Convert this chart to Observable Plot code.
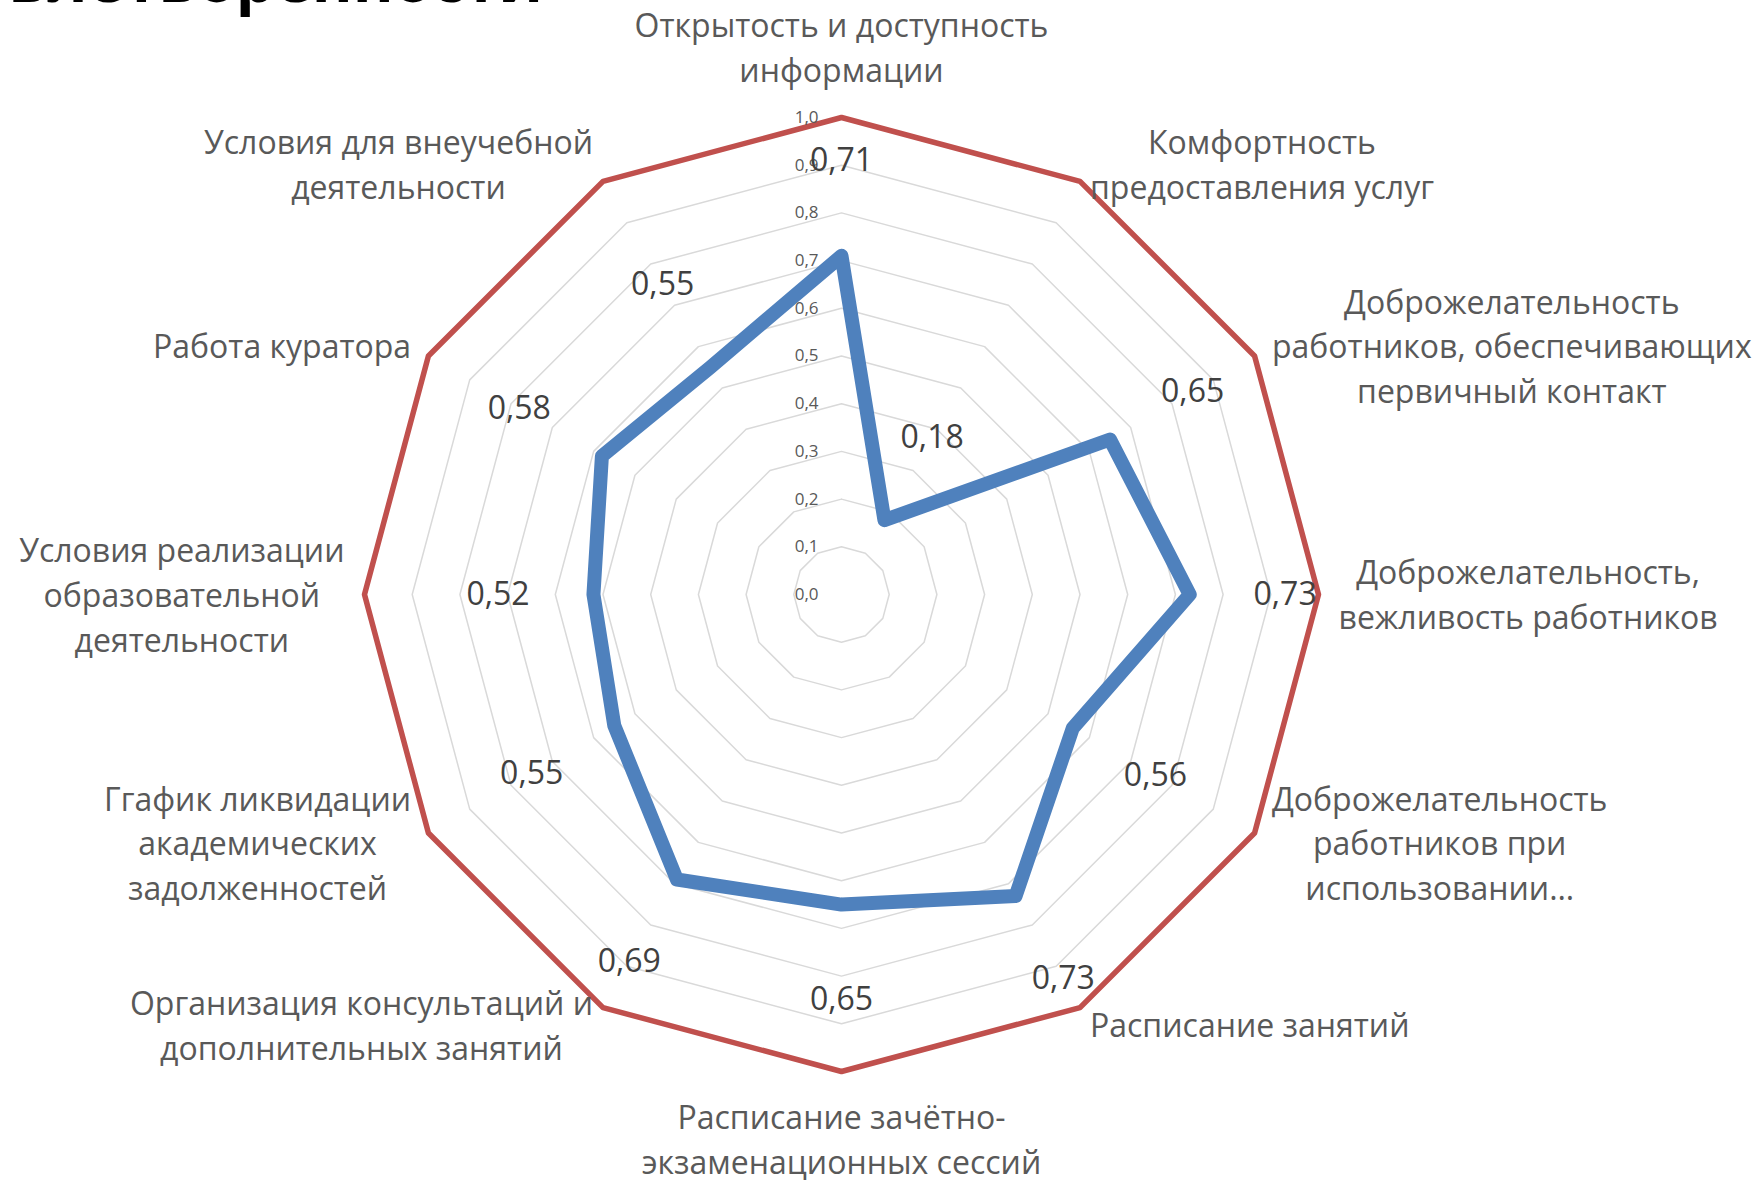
<!DOCTYPE html>
<html>
<head>
<meta charset="utf-8">
<script src="https://cdn.jsdelivr.net/npm/d3@7"></script>
<script src="https://cdn.jsdelivr.net/npm/@observablehq/plot@0.6"></script>
<style>
  html, body { margin: 0; padding: 0; background: #fff; overflow: hidden; }
  #wrap { position: relative; width: 1761px; height: 1180px; overflow: hidden; }
  #title { position: absolute; right: 1218px; top: -53px; white-space: nowrap;
           font-family: "Open Sans", sans-serif; font-weight: 700; font-size: 62px;
           line-height: 1; color: #000; }
</style>
</head>
<body>
<div id="wrap">
  <div id="chart"></div>
  <div id="title">удовлетворенности</div>
</div>
<script>
// ---------- data ----------
const categories = [
  "Открытость и доступность\nинформации",
  "Комфортность\nпредоставления услуг",
  "Доброжелательность\nработников, обеспечивающих\nпервичный контакт",
  "Доброжелательность,\nвежливость работников",
  "Доброжелательность\nработников при\nиспользовании…",
  "Расписание занятий",
  "Расписание зачётно-\nэкзаменационных сессий",
  "Организация консультаций и\nдополнительных занятий",
  "Ггафик ликвидации\nакадемических\nзадолженностей",
  "Условия реализации\nобразовательной\nдеятельности",
  "Работа куратора",
  "Условия для внеучебной\nдеятельности"
];
const values = [0.71, 0.18, 0.65, 0.73, 0.56, 0.73, 0.65, 0.69, 0.55, 0.52, 0.58, 0.55];
const valueLabels = ["0,71", "0,18", "0,65", "0,73", "0,56", "0,73", "0,65", "0,69", "0,55", "0,52", "0,58", "0,55"];
const maxValues = [1, 1, 1, 1, 1, 1, 1, 1, 1, 1, 1, 1];
const ticks = [0, 0.1, 0.2, 0.3, 0.4, 0.5, 0.6, 0.7, 0.8, 0.9, 1.0];
const tickLabels = ["0,0", "0,1", "0,2", "0,3", "0,4", "0,5", "0,6", "0,7", "0,8", "0,9", "1,0"];

// ---------- layout ----------
const W = 1761, H = 1180;
const CX = 841, CY = 594, R = 477;       // centre and radius (px) of the 1.0 ring
const FS = 32;                            // label font size
const GAP = 20;                           // px between outer ring and category labels
const LABEL_OFFSET = 0.2;                 // value labels sit 0.2 beyond the point
const n = categories.length;
const ang = i => (i * 2 * Math.PI) / n;
const px = (r, i) => r * Math.sin(ang(i));
const py = (r, i) => r * Math.cos(ang(i));

const ctx = document.createElement("canvas").getContext("2d");
ctx.font = `${FS}px "Open Sans"`;
const blockW = s => Math.max(...s.split("\n").map(l => ctx.measureText(l).width));

// closed polygons
const ring = (vals, key) => d3.range(n + 1).map(k => {
  const i = k % n;
  return {x: px(vals[i], i), y: py(vals[i], i), z: key};
});
const gridData = ticks.filter(t => t > 0).flatMap(t => ring(Array(n).fill(t), t));
const maxData = ring(maxValues, "max");
const valData = ring(values, "val");

const valueLabelData = values.map((v, i) => ({
  x: px(v + LABEL_OFFSET, i), y: py(v + LABEL_OFFSET, i), text: valueLabels[i]
}));
const tickData = ticks.map((t, k) => ({x: 0, y: t, text: tickLabels[k]}));

const aR = 1 + GAP / R;
const catData = categories.map((c, i) => {
  const s = Math.sin(ang(i)), co = Math.cos(ang(i));
  const side = Math.abs(s) < 1e-6 ? 0 : Math.sign(s);
  return {
    x: px(aR, i) + side * (blockW(c) / 2) / R,
    y: py(aR, i),
    text: c,
    pos: side !== 0 ? "side" : (co > 0 ? "top" : "bottom")
  };
});

const textBase = {fontFamily: "Open Sans", fontSize: FS, fill: "#595959", lineHeight: 1.4, textAnchor: "middle"};

const chart = Plot.plot({
  width: W, height: H,
  margin: 0,
  x: {domain: [-CX / R, (W - CX) / R], axis: null},
  y: {domain: [-(H - CY) / R, CY / R], axis: null},
  marks: [
    Plot.line(gridData, {x: "x", y: "y", z: "z", stroke: "#D9D9D9", strokeWidth: 1.5}),
    Plot.line(maxData, {x: "x", y: "y", stroke: "#C0504D", strokeWidth: 5.5, strokeLinejoin: "round"}),
    Plot.line(valData, {x: "x", y: "y", stroke: "#4F81BD", strokeWidth: 14, strokeLinejoin: "round", strokeLinecap: "round"}),
    Plot.text(tickData, {x: "x", y: "y", text: "text", dx: -23, textAnchor: "end",
      fontFamily: "Open Sans", fontSize: 17, fill: "#595959"}),
    Plot.text(valueLabelData, {x: "x", y: "y", text: "text", fontFamily: "Open Sans", fontSize: FS, fill: "#404040"}),
    Plot.text(catData.filter(d => d.pos === "side"), {x: "x", y: "y", text: "text", ...textBase, lineAnchor: "middle", dy: -2}),
    Plot.text(catData.filter(d => d.pos === "top"), {x: "x", y: "y", text: "text", ...textBase, lineAnchor: "bottom", dy: -16}),
    Plot.text(catData.filter(d => d.pos === "bottom"), {x: "x", y: "y", text: "text", ...textBase, lineAnchor: "top", dy: 6})
  ]
});
document.getElementById("chart").appendChild(chart);
</script>
</body>
</html>
